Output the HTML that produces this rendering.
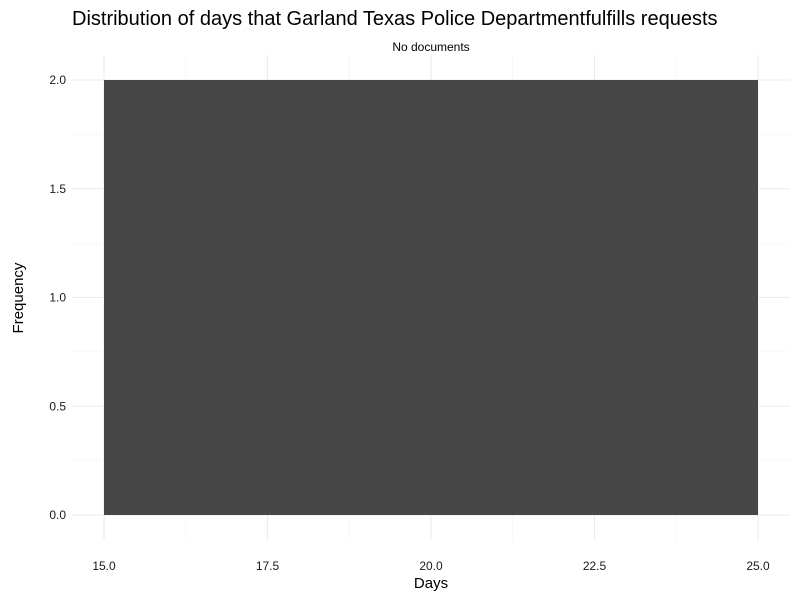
<!DOCTYPE html>
<html><head><meta charset="utf-8"><style>
body{margin:0;background:#fff;font-family:"Liberation Sans",sans-serif;}
</style></head><body>
<svg id="chart" width="800" height="600" xmlns="http://www.w3.org/2000/svg">
<text x="72" y="25" font-size="20" fill="#000">Distribution of days that Garland Texas Police Departmentfulfills requests</text>
<text x="431" y="51" font-size="12" text-anchor="middle" fill="#000">No documents</text>
<g id="grid"></g>
<g id="bars"></g>
<g id="axes"></g>
<text x="431" y="588" font-size="15" text-anchor="middle" fill="#000">Days</text>
<text transform="translate(23,298) rotate(-90)" font-size="15" text-anchor="middle" fill="#000">Frequency</text>
</svg>
<script>
const binStarts=[15];
const binEnds=[25];
const counts=[2];
const xTicks=[15,17.5,20,22.5,25];
const xTickLabels=["15.0","17.5","20.0","22.5","25.0"];
const yTicks=[0,0.5,1,1.5,2];
const yTickLabels=["0.0","0.5","1.0","1.5","2.0"];
const NS="http://www.w3.org/2000/svg";
const px0=72,px1=790,py0=55,py1=540;
function sx(v){return 104+(v-15)*(758-104)/10;}
function sy(v){return 515-v*(515-80)/2;}
function mk(t,a,p){const e=document.createElementNS(NS,t);for(const k in a)e.setAttribute(k,a[k]);p.appendChild(e);return e;}
const grid=document.getElementById('grid'),bars=document.getElementById('bars'),axes=document.getElementById('axes');
for(let i=0;i<xTicks.length-1;i++){const m=(xTicks[i]+xTicks[i+1])/2;const l=mk('line',{x1:sx(m),x2:sx(m),y1:py0,y2:py1,stroke:'#f2f2f2','stroke-width':0.6},grid);

}
for(let i=0;i<yTicks.length-1;i++){const m=(yTicks[i]+yTicks[i+1])/2;const l=mk('line',{x1:px0,x2:px1,y1:sy(m),y2:sy(m),stroke:'#f2f2f2','stroke-width':0.6},grid);

}
xTicks.forEach((v,i)=>{const l=mk('line',{x1:sx(v),x2:sx(v),y1:py0,y2:py1,stroke:'#ebebeb','stroke-width':1.1},grid);


const t=mk('text',{x:sx(v),y:570,'font-size':12,'text-anchor':'middle',fill:'#1a1a1a'},axes);t.textContent=xTickLabels[i];

});
yTicks.forEach((v,i)=>{const l=mk('line',{x1:px0,x2:px1,y1:sy(v),y2:sy(v),stroke:'#ebebeb','stroke-width':1.1},grid);


const t=mk('text',{x:66,y:sy(v)+4,'font-size':12,'text-anchor':'end',fill:'#1a1a1a'},axes);t.textContent=yTickLabels[i];

});
counts.forEach((c,i)=>{const r=mk('rect',{x:sx(binStarts[i]),y:sy(c),width:sx(binEnds[i])-sx(binStarts[i]),height:sy(0)-sy(c),fill:'#474747'},bars);

});
</script>
</body></html>
